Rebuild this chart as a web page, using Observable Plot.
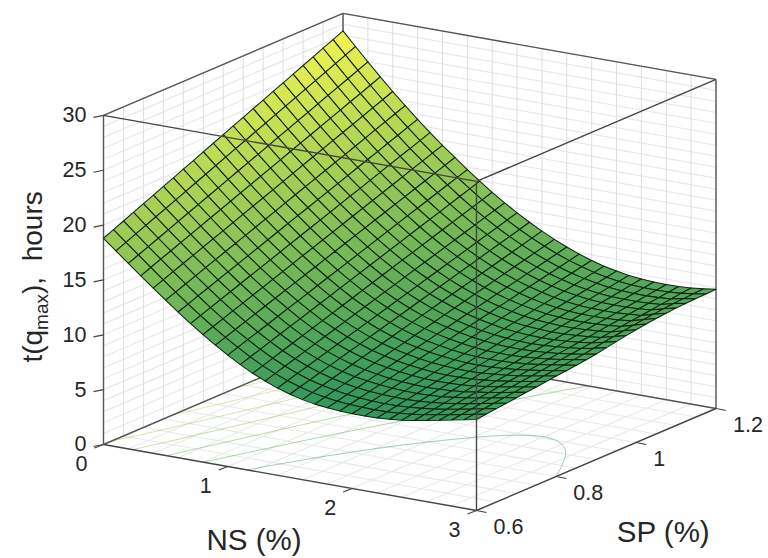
<!DOCTYPE html>
<html>
<head>
<meta charset="utf-8">
<style>html,body{margin:0;padding:0;background:#fff}svg{display:block}</style>
<script src="https://cdn.jsdelivr.net/npm/d3@7"></script>
<script src="https://cdn.jsdelivr.net/npm/@observablehq/plot@0.6"></script>
</head>
<body>
<div id="chart"></div>
<script>
const nsValues = [0,0.1,0.2,0.3,0.4,0.5,0.6,0.7,0.8,0.9,1,1.1,1.2,1.3,1.4,1.5,1.6,1.7,1.8,1.9,2,2.1,2.2,2.3,2.4,2.5,2.6,2.7,2.8,2.9,3];
const spValues = [0.6,0.625,0.65,0.675,0.7,0.725,0.75,0.775,0.8,0.825,0.85,0.875,0.9,0.925,0.95,0.975,1,1.025,1.05,1.075,1.1,1.125,1.15,1.175,1.2];
// t(qmax): one row per NS value, one column per SP value
const zValues = [
[18.80,19.20,19.60,20.00,20.40,20.80,21.20,21.60,22.00,22.40,22.80,23.20,23.60,24.00,24.40,24.80,25.20,25.60,26.00,26.40,26.80,27.20,27.60,28.00,28.40],
[17.85,18.24,18.63,19.02,19.41,19.79,20.18,20.57,20.96,21.35,21.74,22.13,22.52,22.90,23.29,23.68,24.07,24.46,24.85,25.24,25.63,26.01,26.40,26.79,27.18],
[16.91,17.29,17.67,18.04,18.42,18.80,19.18,19.56,19.93,20.31,20.69,21.07,21.45,21.82,22.20,22.58,22.96,23.33,23.71,24.09,24.47,24.85,25.22,25.60,25.98],
[15.98,16.35,16.72,17.08,17.45,17.82,18.19,18.56,18.92,19.29,19.66,20.03,20.40,20.76,21.13,21.50,21.87,22.23,22.60,22.97,23.34,23.71,24.07,24.44,24.81],
[15.06,15.42,15.78,16.14,16.50,16.86,17.22,17.57,17.93,18.29,18.65,19.01,19.37,19.73,20.09,20.45,20.81,21.17,21.53,21.88,22.24,22.60,22.96,23.32,23.68],
[14.16,14.51,14.86,15.21,15.57,15.92,16.27,16.62,16.97,17.32,17.67,18.02,18.38,18.73,19.08,19.43,19.78,20.13,20.48,20.83,21.19,21.54,21.89,22.24,22.59],
[13.28,13.62,13.97,14.31,14.66,15.00,15.35,15.69,16.03,16.38,16.72,17.07,17.41,17.75,18.10,18.44,18.79,19.13,19.48,19.82,20.16,20.51,20.85,21.20,21.54],
[12.43,12.77,13.11,13.44,13.78,14.12,14.46,14.80,15.13,15.47,15.81,16.15,16.49,16.82,17.16,17.50,17.84,18.17,18.51,18.85,19.19,19.53,19.86,20.20,20.54],
[11.62,11.95,12.28,12.62,12.95,13.28,13.61,13.94,14.27,14.61,14.94,15.27,15.60,15.93,16.26,16.60,16.93,17.26,17.59,17.92,18.25,18.59,18.92,19.25,19.58],
[10.86,11.19,11.51,11.84,12.16,12.49,12.81,13.14,13.46,13.79,14.11,14.44,14.77,15.09,15.42,15.74,16.07,16.39,16.72,17.04,17.37,17.69,18.02,18.34,18.67],
[10.15,10.47,10.79,11.10,11.42,11.74,12.06,12.37,12.69,13.01,13.33,13.64,13.96,14.28,14.60,14.91,15.23,15.55,15.87,16.18,16.50,16.82,17.14,17.45,17.77],
[9.49,9.80,10.11,10.42,10.73,11.04,11.34,11.65,11.96,12.27,12.58,12.89,13.20,13.51,13.82,14.13,14.44,14.75,15.06,15.36,15.67,15.98,16.29,16.60,16.91],
[8.89,9.19,9.49,9.79,10.09,10.39,10.69,10.99,11.29,11.59,11.89,12.19,12.50,12.80,13.10,13.40,13.70,14.00,14.30,14.60,14.90,15.20,15.50,15.80,16.10],
[8.39,8.68,8.97,9.26,9.55,9.84,10.13,10.42,10.71,11.00,11.29,11.58,11.87,12.15,12.44,12.73,13.02,13.31,13.60,13.89,14.18,14.47,14.76,15.05,15.34],
[7.95,8.23,8.51,8.78,9.06,9.34,9.62,9.90,10.18,10.46,10.73,11.01,11.29,11.57,11.85,12.13,12.40,12.68,12.96,13.24,13.52,13.80,14.07,14.35,14.63],
[7.59,7.86,8.12,8.39,8.65,8.92,9.19,9.45,9.72,9.98,10.25,10.51,10.78,11.05,11.31,11.58,11.84,12.11,12.37,12.64,12.91,13.17,13.44,13.70,13.97],
[7.30,7.55,7.81,8.06,8.31,8.56,8.82,9.07,9.32,9.57,9.83,10.08,10.33,10.58,10.84,11.09,11.34,11.59,11.85,12.10,12.35,12.60,12.86,13.11,13.36],
[7.09,7.33,7.57,7.80,8.04,8.28,8.52,8.76,9.00,9.23,9.47,9.71,9.95,10.19,10.43,10.66,10.90,11.14,11.38,11.62,11.86,12.09,12.33,12.57,12.81],
[6.95,7.17,7.40,7.62,7.84,8.07,8.29,8.51,8.74,8.96,9.18,9.41,9.63,9.85,10.08,10.30,10.52,10.75,10.97,11.19,11.42,11.64,11.86,12.09,12.31],
[6.86,7.07,7.28,7.49,7.70,7.90,8.11,8.32,8.53,8.74,8.95,9.16,9.37,9.57,9.78,9.99,10.20,10.41,10.62,10.83,11.04,11.24,11.45,11.66,11.87],
[6.81,7.01,7.20,7.40,7.59,7.79,7.98,8.18,8.37,8.57,8.76,8.96,9.15,9.35,9.54,9.74,9.93,10.13,10.32,10.52,10.71,10.91,11.10,11.30,11.49],
[6.80,6.98,7.16,7.35,7.53,7.71,7.89,8.07,8.26,8.44,8.62,8.80,8.99,9.17,9.35,9.53,9.71,9.90,10.08,10.26,10.44,10.62,10.81,10.99,11.17],
[6.83,7.00,7.17,7.34,7.51,7.68,7.85,8.02,8.19,8.36,8.53,8.70,8.88,9.05,9.22,9.39,9.56,9.73,9.90,10.07,10.24,10.41,10.58,10.75,10.92],
[6.91,7.07,7.23,7.39,7.55,7.71,7.87,8.02,8.18,8.34,8.50,8.66,8.82,8.98,9.14,9.30,9.46,9.62,9.78,9.93,10.09,10.25,10.41,10.57,10.73],
[7.03,7.18,7.33,7.48,7.62,7.77,7.92,8.07,8.22,8.37,8.52,8.67,8.82,8.96,9.11,9.26,9.41,9.56,9.71,9.86,10.01,10.15,10.30,10.45,10.60],
[7.20,7.34,7.48,7.62,7.76,7.89,8.03,8.17,8.31,8.45,8.59,8.73,8.87,9.00,9.14,9.28,9.42,9.56,9.70,9.84,9.98,10.11,10.25,10.39,10.53],
[7.40,7.53,7.66,7.79,7.92,8.05,8.18,8.30,8.43,8.56,8.69,8.82,8.95,9.08,9.21,9.34,9.47,9.60,9.73,9.85,9.98,10.11,10.24,10.37,10.50],
[7.62,7.74,7.86,7.98,8.10,8.22,8.35,8.47,8.59,8.71,8.83,8.95,9.07,9.19,9.31,9.43,9.55,9.67,9.79,9.92,10.04,10.16,10.28,10.40,10.52],
[7.85,7.96,8.08,8.19,8.31,8.42,8.54,8.65,8.76,8.88,8.99,9.11,9.22,9.33,9.45,9.56,9.68,9.79,9.91,10.02,10.13,10.25,10.36,10.48,10.59],
[8.08,8.19,8.30,8.41,8.52,8.63,8.74,8.85,8.96,9.07,9.18,9.29,9.40,9.55,9.71,9.85,9.98,10.11,10.23,10.34,10.44,10.53,10.59,10.65,10.71],
[8.30,8.41,8.51,8.62,8.73,8.84,8.94,9.05,9.16,9.26,9.37,9.48,9.62,9.79,9.97,10.13,10.28,10.41,10.53,10.62,10.70,10.75,10.80,10.83,10.87]
];
const contourLevels = [9.15,11.6,14.1,16.6,19.1,21.6,24.1,26.6];
const zTicks = [0,5,10,15,20,25,30];
const nsTicks = [0,1,2,3];
const spTicks = [0.6,0.8,1,1.2];
const spTickLabels = ["0.6","0.8","1","1.2"];
const zGrid = [0,1,2,3,4,5,6,7,8,9,10,11,12,13,14,15,16,17,18,19,20,21,22,23,24,25,26,27,28,29,30];
const nsGrid = [0,0.2,0.4,0.6,0.8,1,1.2,1.4,1.6,1.8,2,2.2,2.4,2.6,2.8,3];
const spGrid = [0.6,0.65,0.7,0.75,0.8,0.85,0.9,0.95,1,1.05,1.1,1.15,1.2];

// orthographic view of the box
const view = {ox:103, oy:444, nsX:124.33, nsY:22, spX:399.2, spY:-170, zY:10.97};
const PX = (ns, sp) => view.ox + ns*view.nsX + (sp-0.6)*view.spX;
const PY = (ns, sp, z) => view.oy + ns*view.nsY + (sp-0.6)*view.spY - z*view.zY;
const seg = (a, b) => ({x1:PX(a[0],a[1]), y1:PY(a[0],a[1],a[2]), x2:PX(b[0],b[1]), y2:PY(b[0],b[1],b[2])});

// grid lines on the back planes and the floor
const gridV = [
  ...spGrid.map(s => seg([0,s,0],[0,s,30])),
  ...nsGrid.map(n => seg([n,1.2,0],[n,1.2,30]))
];
const gridFloor = [
  ...spGrid.map(s => seg([0,s,0],[3,s,0])),
  ...nsGrid.map(n => seg([n,0.6,0],[n,1.2,0]))
];
const gridH = [
  ...zGrid.map(z => seg([0,0.6,z],[0,1.2,z])),
  ...zGrid.map(z => seg([0,1.2,z],[3,1.2,z]))
];

// box edges behind and in front of the surface
const backEdges = [
  seg([0,0.6,0],[0,1.2,0]), seg([0,1.2,0],[3,1.2,0]), seg([0,1.2,0],[0,1.2,30]),
  seg([0,0.6,0],[0,0.6,30]), seg([3,1.2,0],[3,1.2,30]),
  seg([0,0.6,30],[0,1.2,30]), seg([0,1.2,30],[3,1.2,30])
];
const frontEdges = [
  seg([0,0.6,0],[3,0.6,0]), seg([3,0.6,0],[3,1.2,0]), seg([3,0.6,0],[3,0.6,30]),
  seg([0,0.6,30],[3,0.6,30]), seg([3,0.6,30],[3,1.2,30])
];

// tick marks
const tickMarks = [
  ...zTicks.map(z => { const s = seg([0,0.6,z],[0,0.6,z]); return {...s, x1:s.x1-10, y1:s.y1+2}; }),
  ...nsTicks.map(n => { const s = seg([n,0.6,0],[n,0.6,0]); return {...s, x1:s.x1-9, y1:s.y1+3.5}; }),
  ...spTicks.map(p => { const s = seg([3,p,0],[3,p,0]); return {...s, x2:s.x2+10, y2:s.y2+2}; })
];

// surface cells, far ones first
const cells = [];
for (let k = spValues.length-2; k >= 0; k--) {
  for (let j = 0; j < nsValues.length-1; j++) {
    const c = [[j,k],[j+1,k],[j+1,k+1],[j,k+1]];
    const ring = c.map(([a,b]) => [PX(nsValues[a],spValues[b]), PY(nsValues[a],spValues[b],zValues[a][b])]);
    ring.push(ring[0]);
    cells.push({type:"Feature", properties:{value:d3.mean(c, ([a,b]) => zValues[a][b])}, geometry:{type:"Polygon", coordinates:[ring]}});
  }
}

// contours under the surface, on the floor
const nk = spValues.length, nj = nsValues.length;
const contourPts = [];
let contourId = 0;
d3.contours().size([nk,nj]).thresholds(contourLevels)(zValues.flat()).forEach(c => {
  c.coordinates.forEach(poly => poly.forEach(ring => {
    contourId++;
    ring.forEach(([rx,ry]) => {
      const k = rx-0.5, j = ry-0.5;
      if (k < -0.001 || j < -0.001 || k > nk-1+0.001 || j > nj-1+0.001) { contourId++; return; }
      const ns = 0.1*j, sp = 0.6+0.025*k;
      contourPts.push({id:contourId, level:c.value, x:PX(ns,sp), y:PY(ns,sp,0)});
    });
  }));
});

const flat = zValues.flat();
const textStyle = {fill:"#262626", fontFamily:"Liberation Sans, Arial, sans-serif"};
const plot = Plot.plot({
  width:768, height:558, margin:0,
  x:{domain:[0,768], range:[0,768], axis:null},
  y:{domain:[0,558], range:[0,558], axis:null},
  color:{type:"linear", domain:d3.extent(flat), range:["rgb(50,150,92)","rgb(242,245,80)"], interpolate:"rgb"},
  style:{background:"#fff"},
  marks:[
    Plot.link(gridFloor,{x1:"x1",y1:"y1",x2:"x2",y2:"y2",stroke:"#e9e9e9",strokeWidth:1.1}),
    Plot.link(gridH,{x1:"x1",y1:"y1",x2:"x2",y2:"y2",stroke:"#e8e8e8",strokeWidth:1.2}),
    Plot.link(gridV,{x1:"x1",y1:"y1",x2:"x2",y2:"y2",stroke:"#dedede",strokeWidth:1}),
    Plot.line(contourPts,{x:"x",y:"y",z:"id",stroke:"level",strokeWidth:1,strokeOpacity:0.5,curve:"linear"}),
    Plot.link(backEdges,{x1:"x1",y1:"y1",x2:"x2",y2:"y2",stroke:"#555",strokeWidth:1.4}),
    Plot.geo(cells,{fill:d=>d.properties.value,stroke:"#0e2612",strokeWidth:1.05}),
    Plot.link(frontEdges,{x1:"x1",y1:"y1",x2:"x2",y2:"y2",stroke:"#454545",strokeWidth:1.4}),
    Plot.link(tickMarks,{x1:"x1",y1:"y1",x2:"x2",y2:"y2",stroke:"#444",strokeWidth:1.2}),
    Plot.text(zTicks,{x:()=>PX(0,0.6),y:d=>PY(0,0.6,d),text:d=>String(d),dx:-17,textAnchor:"end",fontSize:21.5,...textStyle}),
    Plot.text(nsTicks,{x:d=>PX(d,0.6),y:d=>PY(d,0.6,0),text:d=>String(d),dx:-22,dy:20,fontSize:21.5,...textStyle}),
    Plot.text(spTicks,{x:d=>PX(3,d),y:d=>PY(3,d,0),text:(d,i)=>spTickLabels[i],dx:17,dy:17,textAnchor:"start",fontSize:21.5,...textStyle}),
    Plot.text(["NS (%)"],{x:()=>PX(1.5,0.6),y:()=>PY(1.5,0.6,0),dx:-36,dy:63,fontSize:29.5,...textStyle}),
    Plot.text(["SP (%)"],{x:()=>PX(3,0.9),y:()=>PY(3,0.9,0),dx:67,dy:73,fontSize:29.5,...textStyle}),
    Plot.text(["t(qmax),  hours"],{x:()=>PX(0,0.6),y:()=>PY(0,0.6,15),dx:-70,dy:-3,rotate:-90,fontSize:28,...textStyle})
  ]
});
document.getElementById("chart").appendChild(plot);
// set "max" as a subscript
d3.select(plot).selectAll("text").filter(function(){return this.textContent==="t(qmax),  hours";}).each(function(){
  const t = d3.select(this);
  t.text(null);
  t.append("tspan").text("t(q");
  t.append("tspan").attr("font-size","19").attr("dy","6").text("max");
  t.append("tspan").attr("dy","-6").text("),\u00a0\u00a0hours");
});
</script>
</body>
</html>
